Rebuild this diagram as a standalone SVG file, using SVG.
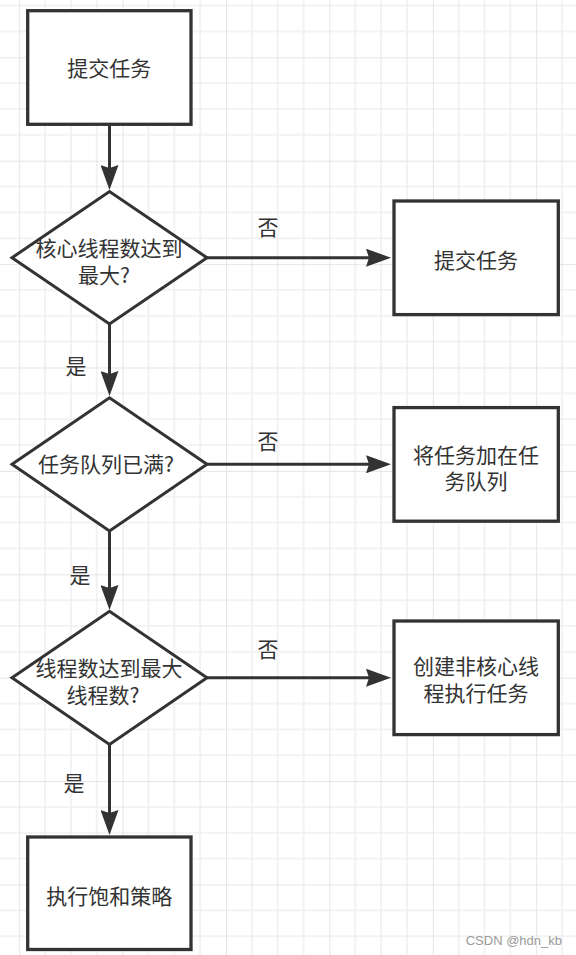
<svg xmlns="http://www.w3.org/2000/svg" width="576" height="955" viewBox="0 0 576 955">
  <style>
    .box { fill: #ffffff; stroke: #333333; stroke-width: 3.3; }
    .dia { fill: #ffffff; stroke: #333333; stroke-width: 3; stroke-linejoin: miter; }
    .lbl { font-family: "Noto Sans CJK SC", "Noto Sans", sans-serif; font-size: 21px; fill: #333333; text-anchor: middle; }
    .edge { fill: none; stroke: #333333; stroke-width: 3; }
    .wm { font-family: "Liberation Sans", Arial, sans-serif; font-size: 13px; fill: #9a9a9a; text-anchor: end; }
  </style>
  <defs>
    <pattern id="grid" patternUnits="userSpaceOnUse" x="19.2" y="57.3" width="103.4" height="103.4">
      <g stroke="#efefef" stroke-width="1.6">
        <line x1="25.85" y1="0" x2="25.85" y2="103.4"/>
        <line x1="51.7" y1="0" x2="51.7" y2="103.4"/>
        <line x1="77.55" y1="0" x2="77.55" y2="103.4"/>
        <line x1="0" y1="25.85" x2="103.4" y2="25.85"/>
        <line x1="0" y1="51.7" x2="103.4" y2="51.7"/>
        <line x1="0" y1="77.55" x2="103.4" y2="77.55"/>
      </g>
      <g stroke="#e5e5e5" stroke-width="2">
        <line x1="0" y1="0" x2="0" y2="103.4"/>
        <line x1="0" y1="0" x2="103.4" y2="0"/>
      </g>
    </pattern>
    <marker id="arrow" markerUnits="userSpaceOnUse" viewBox="0 0 25 18" markerWidth="25" markerHeight="18" refX="14" refY="9" orient="auto">
      <path d="M0,0 L25,9 L0,18 L3,9 Z" fill="#333333"/>
    </marker>
  </defs>
  <rect x="0" y="0" width="576" height="955" fill="#ffffff"/>
  <rect x="0" y="0" width="576" height="955" fill="url(#grid)"/>

  <g id="connectors">
    <path class="edge" d="M109.5,126 L109.5,179" marker-end="url(#arrow)"/>
    <path class="edge" d="M207,257.7 L380,257.7" marker-end="url(#arrow)"/>
    <path class="edge" d="M109.5,324 L109.5,385" marker-end="url(#arrow)"/>
    <path class="edge" d="M207,464.3 L380,464.3" marker-end="url(#arrow)"/>
    <path class="edge" d="M109.5,531 L109.5,599" marker-end="url(#arrow)"/>
    <path class="edge" d="M207,677.7 L380,677.7" marker-end="url(#arrow)"/>
    <path class="edge" d="M109.5,744.4 L109.5,824" marker-end="url(#arrow)"/>
    <text class="lbl" x="268" y="234.8">否</text>
    <text class="lbl" x="268" y="449.2">否</text>
    <text class="lbl" x="268" y="656.8">否</text>
    <text class="lbl" x="76" y="374">是</text>
    <text class="lbl" x="80" y="582.5">是</text>
    <text class="lbl" x="74" y="790.8">是</text>
  </g>

  <g id="submit-task">
    <rect class="box" x="27.7" y="10.7" width="163.3" height="113.6"/>
    <text class="lbl" x="109.3" y="75.8">提交任务</text>
  </g>

  <g id="core-full">
    <polygon class="dia" points="12,257.7 109.5,191.5 207,257.7 109.5,324"/>
    <text class="lbl" x="109" y="255.8">核心线程数达到</text>
    <text class="lbl" x="104" y="282.5">最大?</text>
  </g>

  <g id="submit-task-2">
    <rect class="box" x="394" y="201" width="164.3" height="113.6"/>
    <text class="lbl" x="476" y="267.5">提交任务</text>
  </g>

  <g id="queue-full">
    <polygon class="dia" points="12,464.3 109.5,397.8 207,464.3 109.5,531"/>
    <text class="lbl" x="106" y="471.5">任务队列已满?</text>
  </g>

  <g id="add-queue">
    <rect class="box" x="394" y="407.6" width="164.3" height="113.6"/>
    <text class="lbl" x="476" y="462.5">将任务加在任</text>
    <text class="lbl" x="476" y="489.2">务队列</text>
  </g>

  <g id="max-full">
    <polygon class="dia" points="12,677.7 109.5,611.3 207,677.7 109.5,744.4"/>
    <text class="lbl" x="109" y="675.5">线程数达到最大</text>
    <text class="lbl" x="103" y="702.5">线程数?</text>
  </g>

  <g id="create-noncore">
    <rect class="box" x="394" y="621" width="164.3" height="113.6"/>
    <text class="lbl" x="476" y="674.2">创建非核心线</text>
    <text class="lbl" x="476" y="700.8">程执行任务</text>
  </g>

  <g id="reject">
    <rect class="box" x="27.7" y="837" width="163.3" height="112.5"/>
    <text class="lbl" x="109.3" y="903.5">执行饱和策略</text>
  </g>

  <text class="wm" x="562" y="944.5">CSDN @hdn_kb</text>
</svg>
